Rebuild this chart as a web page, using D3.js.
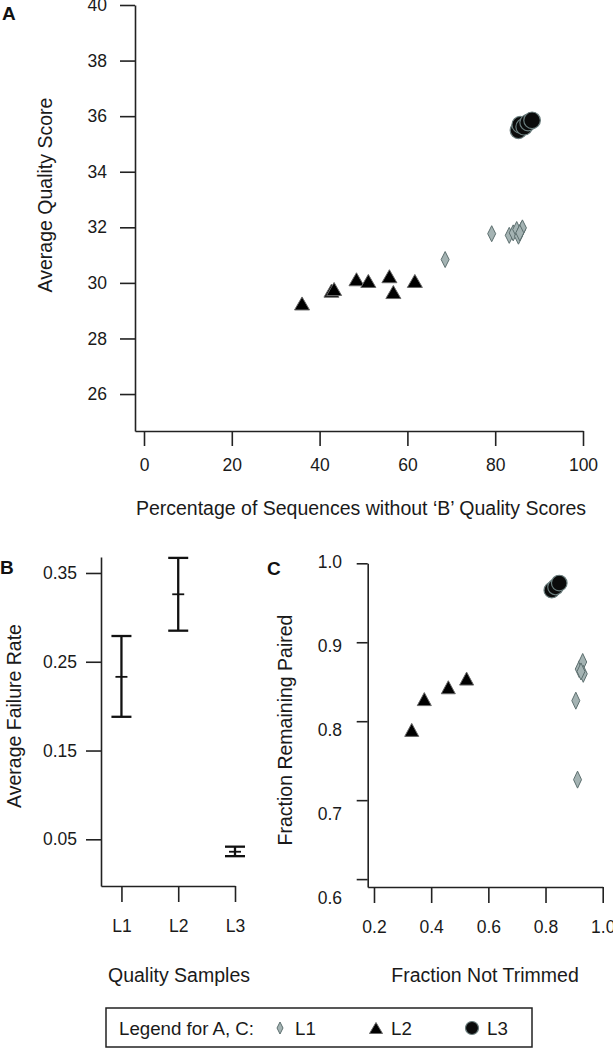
<!DOCTYPE html>
<html><head><meta charset="utf-8">
<script src="https://cdn.jsdelivr.net/npm/d3@7"></script>
<style>
body{margin:0;background:#fff;}
svg{display:block;font-family:"Liberation Sans",Arial,Helvetica,sans-serif;}
.axis path,.axis line{stroke:#222;stroke-width:1.6px;}
.axis text{font-size:17.5px;fill:#1a1a1a;font-family:"Liberation Sans",Arial,sans-serif;}
.title{font-size:19.5px;fill:#1a1a1a;}
.plabel{font-size:19px;font-weight:bold;fill:#111;}
</style></head>
<body><svg id="chart" width="613" height="1050"></svg>
<script>
// ---- Panel A data ----
const aL1x = [68.6, 79.2, 83.2, 84.1, 84.9, 85.3, 86.0, 86.2, 85.6];
const aL1y = [30.84, 31.77, 31.71, 31.80, 31.92, 31.68, 31.92, 31.98, 31.80];
const aL2x = [36.0, 42.7, 43.3, 48.4, 51.1, 55.9, 56.8, 61.7];
const aL2y = [29.26, 29.72, 29.78, 30.13, 30.07, 30.24, 29.67, 30.07];
const aL3x = [85.3, 85.7, 86.6, 87.5, 88.4];
const aL3y = [35.49, 35.69, 35.62, 35.77, 35.85];
const aXTicks = [0, 20, 40, 60, 80, 100];
const aYTicks = [26, 28, 30, 32, 34, 36, 38, 40];
// ---- Panel B data ----
const bCategories = ["L1", "L2", "L3"];
const bMean = [0.233, 0.326, 0.036];
const bUpper = [0.279, 0.367, 0.0417];
const bLower = [0.188, 0.285, 0.031];
const bYTicks = [0.05, 0.15, 0.25, 0.35];
// ---- Panel C data ----
const cL1x = [0.906, 0.912, 0.918, 0.930, 0.932, 0.924];
const cL1y = [0.826, 0.726, 0.866, 0.875, 0.860, 0.863];
const cL2x = [0.332, 0.376, 0.460, 0.524];
const cL2y = [0.789, 0.828, 0.843, 0.854];
const cL3x = [0.822, 0.835, 0.848];
const cL3y = [0.966, 0.970, 0.975];
const cXTicks = [0.2, 0.4, 0.6, 0.8, 1.0];
const cYTicks = [0.6, 0.7, 0.8, 0.9, 1.0];
const legendItems = ["L1", "L2", "L3"];

const svg = d3.select("#chart");
svg.append("rect").attr("width",613).attr("height",1050).attr("fill","#fff");

const L1FILL = "#a4b3b3", L1STROKE = "#5d6f6f";
const L3STROKE = "#6a7d7d";

function diamond(g, x, y, w, h){
  g.append("path").attr("d",`M${x},${y-h/2}L${x+w/2},${y}L${x},${y+h/2}L${x-w/2},${y}Z`)
   .attr("fill",L1FILL).attr("stroke",L1STROKE).attr("stroke-width",1);
}
function triangle(g, x, y, w, h){
  g.append("path").attr("d",`M${x},${y-h/2}L${x+w/2},${y+h/2}L${x-w/2},${y+h/2}Z`)
   .attr("fill","#000").attr("stroke","#666").attr("stroke-width",1);
}
function circle(g, x, y, r){
  g.append("circle").attr("cx",x).attr("cy",y).attr("r",r)
   .attr("fill","#0b0b0b").attr("stroke",L3STROKE).attr("stroke-width",1.2);
}

// ================= Panel A =================
const xA = d3.scaleLinear().domain([-2.05, 100]).range([135, 583]);
const yA = d3.scaleLinear().domain([24.67, 40]).range([431, 5]);
const gA = svg.append("g");
gA.append("g").attr("class","axis").attr("transform","translate(0,431)")
  .call(d3.axisBottom(xA).tickValues(aXTicks).tickSize(15).tickSizeOuter(0).tickPadding(13).tickFormat(d3.format("d")));
gA.append("g").attr("class","axis").attr("transform","translate(135,0)")
  .call(d3.axisLeft(yA).tickValues(aYTicks).tickSize(15).tickSizeOuter(0).tickPadding(13).tickFormat(d3.format("d")));
gA.append("text").attr("class","title").attr("transform","translate(45,195) rotate(-90)")
  .attr("text-anchor","middle").attr("dy","0.35em").text("Average Quality Score");
gA.append("text").attr("class","title").attr("x",361).attr("y",508).attr("dy","0.35em")
  .attr("text-anchor","middle").text("Percentage of Sequences without \u2018B\u2019 Quality Scores");
gA.append("text").attr("class","plabel").attr("x",2).attr("y",20).text("A");
aL2x.forEach((v,i)=>triangle(gA, xA(v), yA(aL2y[i]), 15, 13));
aL1x.forEach((v,i)=>diamond(gA, xA(v), yA(aL1y[i]), 8, 16));
aL3x.forEach((v,i)=>circle(gA, xA(v), yA(aL3y[i]), 8.3));

// ================= Panel B =================
const xB = d3.scaleLinear().domain([-0.36, 2]).range([101, 235]);
const yB = d3.scaleLinear().domain([-0.0026, 0.368]).range([886, 557]);
const gB = svg.append("g");
gB.append("g").attr("class","axis").attr("transform","translate(0,886)")
  .call(d3.axisBottom(xB).tickValues([0,1,2]).tickSize(16).tickSizeOuter(0).tickPadding(18).tickFormat(i=>bCategories[i]));
gB.append("g").attr("class","axis").attr("transform","translate(101,0)")
  .call(d3.axisLeft(yB).tickValues(bYTicks).tickSize(15).tickSizeOuter(0).tickPadding(9).tickFormat(d3.format(".2f")));
gB.append("text").attr("class","title").attr("transform","translate(14,716) rotate(-90)")
  .attr("text-anchor","middle").attr("dy","0.35em").text("Average Failure Rate");
gB.append("text").attr("class","title").attr("x",179).attr("y",975).attr("dy","0.35em")
  .attr("text-anchor","middle").text("Quality Samples");
gB.append("text").attr("class","plabel").attr("x",0).attr("y",574).text("B");
bCategories.forEach((c,i)=>{
  const x = xB(i);
  const eb = gB.append("g").attr("stroke","#111").attr("stroke-width",2.3).attr("fill","none");
  eb.append("line").attr("x1",x).attr("x2",x).attr("y1",yB(bUpper[i])).attr("y2",yB(bLower[i]));
  eb.append("line").attr("x1",x-10).attr("x2",x+10).attr("y1",yB(bUpper[i])).attr("y2",yB(bUpper[i]));
  eb.append("line").attr("x1",x-10).attr("x2",x+10).attr("y1",yB(bLower[i])).attr("y2",yB(bLower[i]));
  eb.append("line").attr("x1",x-6).attr("x2",x+6).attr("y1",yB(bMean[i])).attr("y2",yB(bMean[i])).attr("stroke-width",1.8);
});

// ================= Panel C =================
const xC = d3.scaleLinear().domain([0.178, 1.0]).range([367.7, 602.7]);
const yC = d3.scaleLinear().domain([0.590, 1.0]).range([887, 563.3]);
const yCLabel = d3.scaleLinear().domain([0.6, 1.0]).range([898, 562]);
const gC = svg.append("g");
gC.append("g").attr("class","axis").attr("transform","translate(0,887)")
  .call(d3.axisBottom(xC).tickValues(cXTicks).tickSize(16).tickSizeOuter(0).tickPadding(18).tickFormat(d3.format(".1f")));
gC.append("g").attr("class","axis").attr("transform","translate(367.7,0)")
  .call(d3.axisLeft(yC).tickValues(cYTicks).tickSize(11).tickSizeOuter(0).tickFormat(""));
gC.append("g").selectAll("text").data(cYTicks).join("text")
  .attr("x",342).attr("y",d=>yCLabel(d)).attr("dy","0.35em").attr("text-anchor","end")
  .style("font-size","17.5px").attr("fill","#1a1a1a").text(d3.format(".1f"));
gC.append("text").attr("class","title").attr("transform","translate(285,730) rotate(-90)")
  .attr("text-anchor","middle").attr("dy","0.35em").text("Fraction Remaining Paired");
gC.append("text").attr("class","title").attr("x",485).attr("y",975).attr("dy","0.35em")
  .attr("text-anchor","middle").text("Fraction Not Trimmed");
gC.append("text").attr("class","plabel").attr("x",267).attr("y",575).text("C");
cL2x.forEach((v,i)=>triangle(gC, xC(v), yC(cL2y[i]), 14, 13));
cL1x.forEach((v,i)=>diamond(gC, xC(v), yC(cL1y[i]), 8, 17));
cL3x.forEach((v,i)=>circle(gC, xC(v), yC(cL3y[i]), 7.8));

// ================= Legend =================
const gL = svg.append("g");
gL.append("rect").attr("x",106).attr("y",1008).attr("width",426).attr("height",39)
  .attr("fill","#fff").attr("stroke","#222").attr("stroke-width",1.5);
gL.append("text").attr("class","title").attr("x",119).attr("y",1028).attr("dy","0.35em")
  .style("font-size","18.7px").text("Legend for A, C:");
const legX = d3.scalePoint().domain(legendItems).range([280, 472]);
diamond(gL, legX("L1"), 1028, 6, 12);
triangle(gL, legX("L2"), 1028, 13, 11);
circle(gL, legX("L3"), 1028, 6.5);
legendItems.forEach(k=>{
  gL.append("text").attr("class","title").attr("x",legX(k)+15).attr("y",1028).attr("dy","0.35em")
    .style("font-size","18.7px").text(k);
});
</script></body></html>
